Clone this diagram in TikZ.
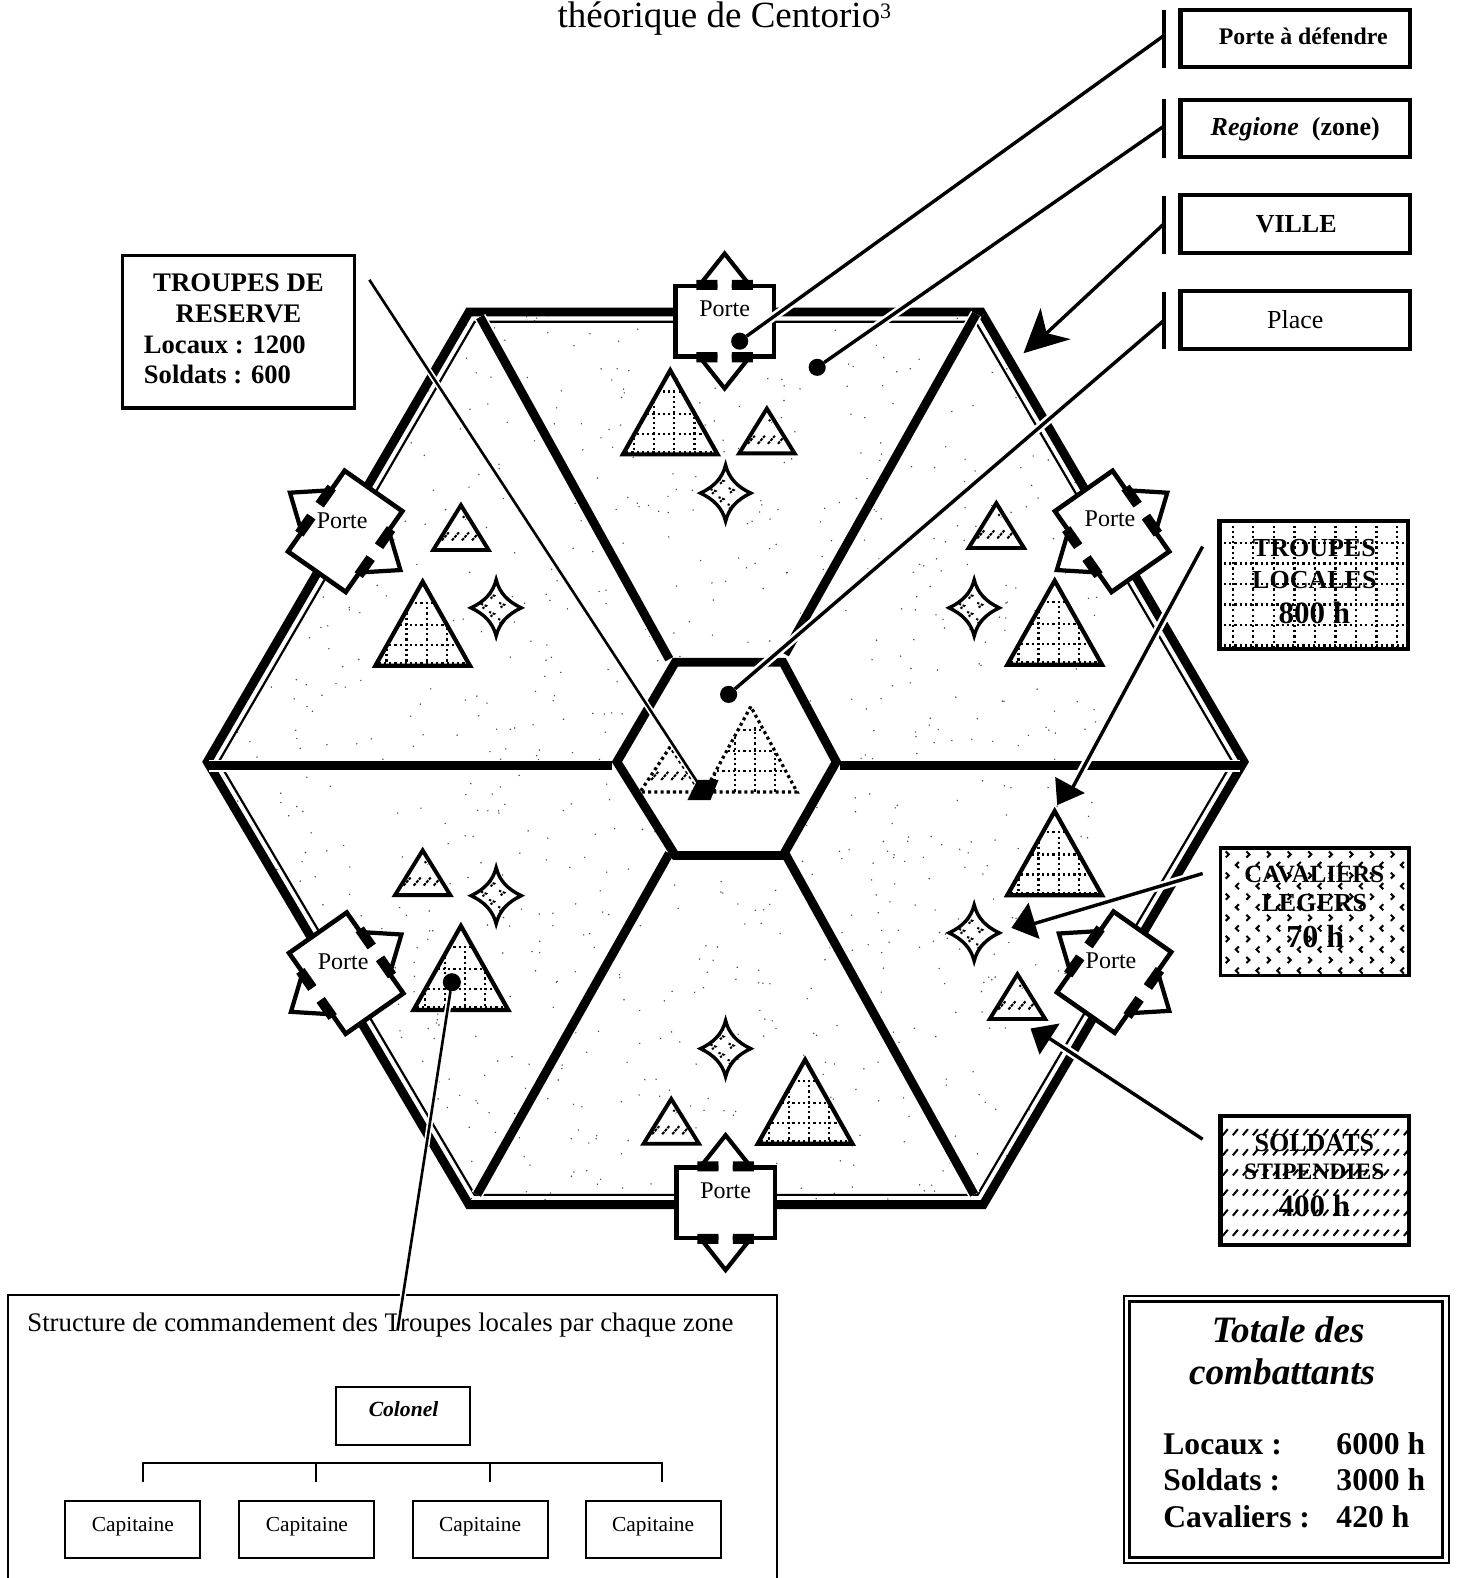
\documentclass[tikz,border=0pt]{standalone}
\usepackage{fontspec}
\setmainfont{Liberation Serif}
\usetikzlibrary{calc}
\def\u{0.5031pt}
\newcommand{\fs}[2]{\fontsize{#1}{#2}\selectfont}
\tikzset{
  lbl/.style={inner sep=0pt,outer sep=0pt,anchor=base},
  lblw/.style={inner sep=0pt,outer sep=0pt,anchor=base west},
  rectbox/.style={draw=black,fill=none,rectangle,inner sep=0pt,outer sep=0pt,line width=4*\u},
  thinbox/.style={draw=black,line width=2*\u},
  blob/.style={circle,fill=black,inner sep=0pt,outer sep=0pt,minimum size=17*\u},
  leader/.style={line width=3.4*\u,preaction={draw=white,line width=8.5*\u}},
  thinleader/.style={line width=2.6*\u,preaction={draw=white,line width=6*\u}},
  dotline/.style={line width=2.2*\u,dash pattern=on 2.2*\u off 3*\u},
  wall/.style={line width=8.8*\u,miter limit=10},
}
% large triangle, apex at #1,#2
\newcommand{\bigtri}[2]{\begin{scope}[shift={(#1,#2)}]
  \fill[white] (0,2)--(-47,85.5)--(47,85.5)--cycle;
  \begin{scope}
  \clip (0,2)--(-47,85.5)--(47,85.5)--cycle;
  \foreach \gy in {23,45,65,83}{\draw[dotline] (-49,\gy)--(49,\gy);}
  \foreach \gx in {-36,-16,4,24,44}{\draw[dotline] (\gx,22)--(\gx,88);}
  \end{scope}
  \draw[line width=4.2*\u,line join=miter] (0,2)--(-47,85.5)--(47,85.5)--cycle;
\end{scope}}
% small triangle
\newcommand{\smalltri}[2]{\begin{scope}[shift={(#1,#2)}]
  \fill[white] (0,2)--(-27.5,46.5)--(27.5,46.5)--cycle;
  \foreach \gx in {-16,-6,4,14}{\draw[line width=2*\u,dash pattern=on 3*\u off 1*\u] (\gx-3,37)--(\gx+4,29);}
  \draw[line width=2*\u,dash pattern=on 2*\u off 2*\u] (2,13)--(5,16);
  \draw[line width=3.9*\u,line join=miter] (0,2)--(-27.5,46.5)--(27.5,46.5)--cycle;
\end{scope}}
% four-pointed star
\newcommand{\fourstar}[2]{\begin{scope}[shift={(#1,#2)}]
  \draw[line width=3.4*\u,line join=miter,miter limit=20,fill=white] (0,-28)
    .. controls (3,-15) and (12,-6) .. (25,0)
    .. controls (12,6) and (3,15) .. (0,28)
    .. controls (-3,15) and (-12,6) .. (-25,0)
    .. controls (-12,-6) and (-3,-15) .. (0,-28) -- cycle;
  \foreach \mx/\my in {-13/-2,-5/-12,5/-3,-5/6,4/13}{
    \draw[line width=2*\u,dash pattern=on 2.2*\u off 1.6*\u] (\mx-2,\my-2)--(\mx+3,\my)--(\mx-1,\my+3);}
\end{scope}}
% gate, centre #1,#2, rotation #3
\newcommand{\gate}[3]{\begin{scope}[shift={(#1,#2)},rotate=#3]
  \draw[line width=4.2*\u,line join=miter,fill=white] (-27,-33)--(0,-67)--(27,-33);
  \draw[line width=4.2*\u,line join=miter,fill=white] (-27,33)--(0,67)--(27,33);
  \draw[line width=4.6*\u,fill=white,line join=miter] (-49,-35) rectangle (49,35);
  \fill (-28,-41) rectangle (-7,-31) (7,-41) rectangle (28,-31);
  \fill (-28,31) rectangle (-7,41) (7,31) rectangle (28,41);
  \fill[white] (-7,-41) rectangle (7,-30) (-7,30) rectangle (7,41);
\end{scope}}
\begin{document}
\begin{tikzpicture}[x=\u,y=-\u]
\useasboundingbox (0,0) rectangle (1449,1568);
\fill[white] (0,0) rectangle (1449,1568);
% title
\node[lblw,font=\fs{18.5}{22}] (title) at (554,27) {théorique de Centorio\raisebox{4.5pt}{\fs{11}{11}3}};
% speckle of the shaded ground
\begin{scope}
\clip (466,310)--(975,310)--(1236,757)--(977,1197)--(466,1197)--(206,757)--cycle;
\pgfmathsetseed{4711}
\foreach \i in {1,...,1100}{
  \pgfmathsetmacro{\px}{210+rnd*880}
  \pgfmathsetmacro{\py}{312+rnd*880}
  \fill[black!70] (\px,\py) circle[radius=0.8*\u];}
\end{scope}
% city walls
\draw[wall,line join=miter] (466,310)--(975,310)--(1236,757)--(977,1197)--(466,1197)--(206,757)--cycle;
\draw[line width=2.2*\u,scale around={0.978:(721,755)}] (466,310)--(975,310)--(1236,757)--(977,1197)--(466,1197)--(206,757)--cycle;
% spokes, inner square
\foreach \ax/\ay/\bx/\by in {477/315/665/655,970/312/780/650,665/848/474/1187,780/848/968/1187,208/761/608/761,835/761/1232/761}{
  \draw[line width=8.8*\u,preaction={draw=white,line width=12*\u}] (\ax,\ay)--(\bx,\by);}
\draw[wall,line join=miter,fill=white] (671,658)--(778,658)--(831,757)--(778,850)--(671,850)--(613,757)--cycle;
% troops
\bigtri{666}{366}\smalltri{762}{404}\fourstar{721}{490}
\smalltri{458}{500}\bigtri{420}{576}\fourstar{493}{604}
\smalltri{990}{498}\bigtri{1048}{575}\fourstar{968}{604}
\smalltri{420}{843}\bigtri{458}{918}\fourstar{493}{890}
\bigtri{1048}{804}\fourstar{968}{927}\smalltri{1011}{966}
\fourstar{721}{1042}\smalltri{667}{1090}\bigtri{800}{1051}
% reserve troops in the place (dotted)
\begin{scope}[shift={(746,702)}]
  \begin{scope}
  \clip (0,0)--(-46,85)--(46,85)--cycle;
  \foreach \gy in {23,44,64}{\draw[dotline] (-49,\gy)--(49,\gy);}
  \foreach \gx in {-36,-16,4,24}{\draw[dotline] (\gx,20)--(\gx,88);}
  \end{scope}
  \draw[line width=3.2*\u,dash pattern=on 3*\u off 3.2*\u] (0,0)--(-46,85)--(46,85)--cycle;
\end{scope}
\begin{scope}[shift={(666,742)}]
  \foreach \gx in {-16,-6,4,14}{\draw[line width=2*\u,dash pattern=on 3*\u off 1*\u] (\gx-3,33)--(\gx+4,25);}
  \draw[line width=3.2*\u,dash pattern=on 3*\u off 3.2*\u] (0,0)--(-30,45)--(30,45)--cycle;
\end{scope}
% gates
\gate{720}{319}{0}
\gate{721}{1195}{0}
\gate{1105}{528}{-55}
\gate{1107}{966}{55}
\gate{343}{528}{55}
\gate{344}{967}{-55}
\foreach \n/\tx/\ty in {a/720/314,b/721/1191,c/1103/523,d/1104/962,e/340/525,f/341/963}{
  \node[lbl,font=\fs{12}{14}] (porte\n) at (\tx,\ty) {Porte};}
% legend column top
\node[rectbox,minimum width=228*\u,minimum height=57*\u] (bP) at (1287,38.5) {};
\node[rectbox,minimum width=228*\u,minimum height=57*\u] (bR) at (1287,127.5) {};
\node[rectbox,minimum width=228*\u,minimum height=57*\u] (bV) at (1287,222.5) {};
\node[rectbox,minimum width=228*\u,minimum height=57*\u] (bL) at (1287,318) {};
\node[lbl,font=\fs{11.9}{14}\bfseries] (tP) at (1295,44) {Porte à défendre};
\node[lbl,font=\fs{13}{15}\bfseries] (tR) at (1287,135) {\textit{Regione}\ \ (zone)};
\node[lbl,font=\fs{13}{15}\bfseries] (tV) at (1288,231) {VILLE};
\node[lbl,font=\fs{13}{15}] (tL) at (1287,326) {Place};
\coordinate (lP) at (1157,35);\coordinate (lR) at (1157,125);\coordinate (lV) at (1157,222);\coordinate (lL) at (1157,318);
\node[blob] (dP) at (735,339) {};
\node[blob] (dR) at (812,365) {};
\node[blob] (dL) at (724,690) {};
\coordinate (aV) at (1040,331);
\draw[leader] (lP)--(dP);
\draw[leader] (lR)--(dR);
\draw[leader] (lL)--(dL);
\draw[leader] (lV)--(aV);
\fill (1017,351)--(1034,306)--(1040,331)--(1064,337)--cycle;
\foreach \n/\ya/\yb in {P/10/68,R/98/157,V/195/252,L/290/347}{
  \coordinate (barA\n) at (1157,\ya); \coordinate (barB\n) at (1157,\yb);
  \draw[line width=4*\u] (barA\n)--(barB\n);}
% reserve box
\node[rectbox,line width=3.2*\u,minimum width=231*\u,minimum height=152*\u] (bRes) at (237,329.5) {};
\node[lbl,font=\fs{13.4}{16}\bfseries] (res1) at (237,290) {TROUPES DE};
\node[lbl,font=\fs{13.4}{16}\bfseries] (res2) at (237,320) {RESERVE};
\node[lblw,font=\fs{13.3}{16}\bfseries] (res3) at (143,351) {Locaux : 1200};
\node[lblw,font=\fs{13.3}{16}\bfseries] (res4) at (143,381) {Soldats : 600};
\coordinate (lRes) at (367,278);
\coordinate (pRes) at (698,785);
\draw[thinleader] (lRes)--(pRes);
\fill (683,795)--(706,795)--(714,775)--(693,775)--cycle;
% legend: local troops
\begin{scope}
\clip (1211,517) rectangle (1400,646);
\foreach \gx in {0,...,8}{\draw[dotline] (1225+20.4*\gx,517)--(1225+20.4*\gx,646);}
\foreach \gy in {0,...,5}{\draw[dotline] (1211,539.5+20.4*\gy)--(1400,539.5+20.4*\gy);}
\end{scope}
\node[rectbox,minimum width=187.5*\u,minimum height=127.5*\u] (bTL) at (1305.5,581.5) {};
\node[lbl,font=\fs{13}{15}\bfseries] (tl1) at (1306,553) {TROUPES};
\node[lbl,font=\fs{13}{15}\bfseries] (tl2) at (1306,585) {LOCALES};
\node[lbl,font=\fs{15.5}{18}\bfseries] (tl3) at (1306,620) {800 h};
% legend: light horse
\begin{scope}
\clip (1212,842) rectangle (1401,970);
\foreach \gr in {0,2,4,6,8,10}{\foreach \gc in {0,...,8}{
  \draw[line width=2*\u] (1218+20.5*\gc,846+10.5*\gr)--(1221+20.5*\gc,849+10.5*\gr)--(1218+20.5*\gc,852+10.5*\gr);}}
\foreach \gr in {1,3,5,7,9,11}{\foreach \gc in {0,...,8}{
  \draw[line width=2*\u] (1231+20.5*\gc,846+10.5*\gr)--(1228+20.5*\gc,849+10.5*\gr)--(1231+20.5*\gc,852+10.5*\gr);}}
\end{scope}
\node[rectbox,line width=3.4*\u,minimum width=187.5*\u,minimum height=126.5*\u] (bCL) at (1306.5,906) {};
\node[lbl,font=\fs{12.4}{15}\bfseries] (cl1) at (1306,877) {CAVALIERS};
\node[lbl,font=\fs{13}{15}\bfseries] (cl2) at (1306,906) {LEGERS};
\node[lbl,font=\fs{16}{18}\bfseries] (cl3) at (1307,941) {70 h};
% legend: paid soldiers
\begin{scope}
\clip (1212,1108) rectangle (1401,1238);
\foreach \gr in {0,...,5}{\foreach \gc in {0,...,18}{
  \draw[line width=2*\u] (1215+10*\gc,1128+20*\gr)--(1220+10*\gc,1122+20*\gr);}}
\end{scope}
\node[rectbox,minimum width=187.5*\u,minimum height=128.5*\u] (bSS) at (1306.5,1173) {};
\node[lbl,font=\fs{13}{15}\bfseries] (ss1) at (1306,1144) {SOLDATS};
\node[lbl,font=\fs{11.8}{14}\bfseries] (ss2) at (1306,1172) {STIPENDIES};
\node[lbl,font=\fs{15.5}{18}\bfseries] (ss3) at (1306,1209) {400 h};
% leaders of the troop legends
\coordinate (lTL) at (1195,543);\coordinate (aTL) at (1064,786);
\draw[leader] (lTL)--(aTL);
\fill (1048.5,772)--(1078,788)--(1050.5,800)--cycle;
\coordinate (lCL) at (1195,868);\coordinate (aCL) at (1020,920);
\draw[leader] (lCL)--(aCL);
\fill (1005,922)--(1022,897)--(1033,933)--cycle;
\coordinate (lSS) at (1195,1132);\coordinate (aSS) at (1037,1028);
\draw[leader] (lSS)--(aSS);
\fill (1024,1022)--(1053,1017)--(1033,1048)--cycle;
% command structure
\draw[line width=2*\u] (8,1568)--(8,1287)--(772,1287)--(772,1568);
\node[lbl,font=\fs{13.4}{16}] (stT) at (378,1323) {Structure de commandement des Troupes locales par chaque zone};
\node[blob,minimum size=18*\u] (dC) at (449,976) {};
\coordinate (lC) at (395,1322);
\draw[thinleader] (dC)--(lC);
\node[thinbox,rectangle,inner sep=0pt,minimum width=134*\u,minimum height=57*\u] (col) at (400.5,1407) {};
\node[lbl,font=\fs{10.8}{13}\bfseries\itshape] (colT) at (401,1408) {Colonel};
\foreach \n/\bx/\tx in {1/132/132,2/304.5/305,3/477.5/477,4/649/649}{
  \node[thinbox,rectangle,inner sep=0pt,minimum width=134*\u,minimum height=57*\u] (cap\n) at (\bx,1520) {};
  \node[lbl,font=\fs{10.7}{13}] (capT\n) at (\tx,1522) {Capitaine};}
\coordinate (hA) at (142,1454);\coordinate (hB) at (314,1454);\coordinate (hC) at (487,1454);\coordinate (hD) at (658,1454);
\draw[line width=2*\u] (142,1473)--(hA)--(hD)--(658,1473);
\draw[line width=2*\u] (hB)--(314,1473);
\draw[line width=2*\u] (hC)--(487,1473);
% totals
\node[rectbox,line width=2*\u,minimum width=323*\u,minimum height=266*\u] (totO) at (1278,1420.5) {};
\node[rectbox,line width=3*\u,minimum width=311*\u,minimum height=254*\u] (totI) at (1278,1420.5) {};
\node[lbl,font=\fs{18.6}{22}\bfseries\itshape] (to1) at (1280,1334) {Totale des};
\node[lbl,font=\fs{18.6}{22}\bfseries\itshape] (to2) at (1274,1376) {combattants};
\foreach \n/\ty/\ta/\tb in {a/1445/Locaux :/6000 h,b/1481/Soldats :/3000 h,c/1518/Cavaliers :/420 h}{
  \node[lblw,font=\fs{15.8}{19}\bfseries] (tot\n) at (1156,\ty) {\ta};
  \node[lblw,font=\fs{15.8}{19}\bfseries] (val\n) at (1328,\ty) {\tb};}
\end{tikzpicture}
\end{document}
